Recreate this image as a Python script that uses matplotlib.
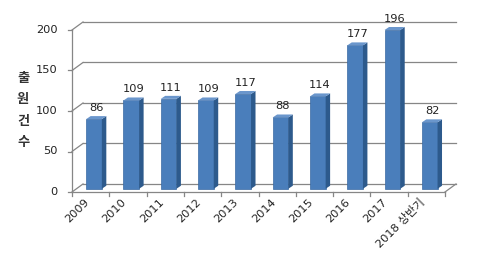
import matplotlib.pyplot as plt
from matplotlib.patches import Polygon

# data
years = ['2009', '2010', '2011', '2012', '2013', '2014', '2015', '2016', '2017', '2018 상반기']
counts = [86, 109, 111, 109, 117, 88, 114, 177, 196, 82]
yticks = [0, 50, 100, 150, 200]

# pseudo-3d geometry (category units / value units)
px_cat, px_val = 37.3, 0.81
wall_dx, wall_dy = 0.295, 9.9
bar_w, bar_dx, bar_dy, bar_off, bar_base = 0.42, 0.12, 3.7, 0.38, 4

fig = plt.figure(figsize=(4.9, 2.75), dpi=100)
W, H = 490, 275
xmax, ymax = 10.6, 215
ax = fig.add_axes([72 / W, 83 / H, xmax * px_cat / W, ymax * px_val / H])
ax.set_xlim(0, xmax)
ax.set_ylim(0, ymax)
ax.axis('off')

grid = '#868686'
n = len(years)
# back wall gridlines + left diagonals
for v in yticks:
    ax.plot([wall_dx, n + wall_dx], [v + wall_dy, v + wall_dy], color=grid, lw=0.9, clip_on=False)
    ax.plot([0, wall_dx], [v, v + wall_dy], color=grid, lw=0.9, clip_on=False)
    ax.plot([-0.1, 0], [v, v], color=grid, lw=0.9, clip_on=False)
    ax.text(-0.38, v, str(v), ha='right', va='center', fontsize=8.2, color='#222222')
# front axis + floor
ax.plot([0, 0], [0, 200], color=grid, lw=0.9, clip_on=False)
ax.plot([0, n], [0, 0], color=grid, lw=0.9, clip_on=False)
ax.plot([n, n + wall_dx], [0, wall_dy], color=grid, lw=0.9, clip_on=False)
for i in range(n + 1):
    ax.plot([i, i], [0, -5], color=grid, lw=0.9, clip_on=False)

front, side, top = '#4a7ebb', '#2d5a8c', '#6a96cc'
lefts = [i + bar_off for i in range(n)]
ax.bar(lefts, counts, width=bar_w, bottom=bar_base, align='edge', color=front,
       edgecolor='#3a6aa3', linewidth=0.5, zorder=3)
for xl, v in zip(lefts, counts):
    xr = xl + bar_w
    yt = bar_base + v
    ax.add_patch(Polygon([(xr, bar_base), (xr + bar_dx, bar_base + bar_dy),
                          (xr + bar_dx, yt + bar_dy), (xr, yt)], closed=True,
                         facecolor=side, edgecolor='none', zorder=3))
    ax.add_patch(Polygon([(xl, yt), (xl + bar_dx, yt + bar_dy),
                          (xr + bar_dx, yt + bar_dy), (xr, yt)], closed=True,
                         facecolor=top, edgecolor='none', zorder=3))
    ax.text(xl + (bar_w + bar_dx) / 2, yt + 14, str(v), ha='center', va='center',
            fontsize=8.2, color='#222222', clip_on=False)

# x tick labels
for i, lab in enumerate(years):
    ax.text(i + 0.32, -6, lab, ha='right', va='top', rotation=45, rotation_mode='anchor',
            fontsize=8.2, color='#222222', family=['DejaVu Sans', 'Noto Sans CJK KR'])

# y label, stacked
fig.text(23 / W, 1 - 110 / H, '출\n원\n건\n수', ha='center', va='center', fontsize=9.5,
         fontweight='bold', linespacing=1.65, color='#333333', family=['Noto Sans CJK KR'])

fig.savefig('out.png', dpi=100)
